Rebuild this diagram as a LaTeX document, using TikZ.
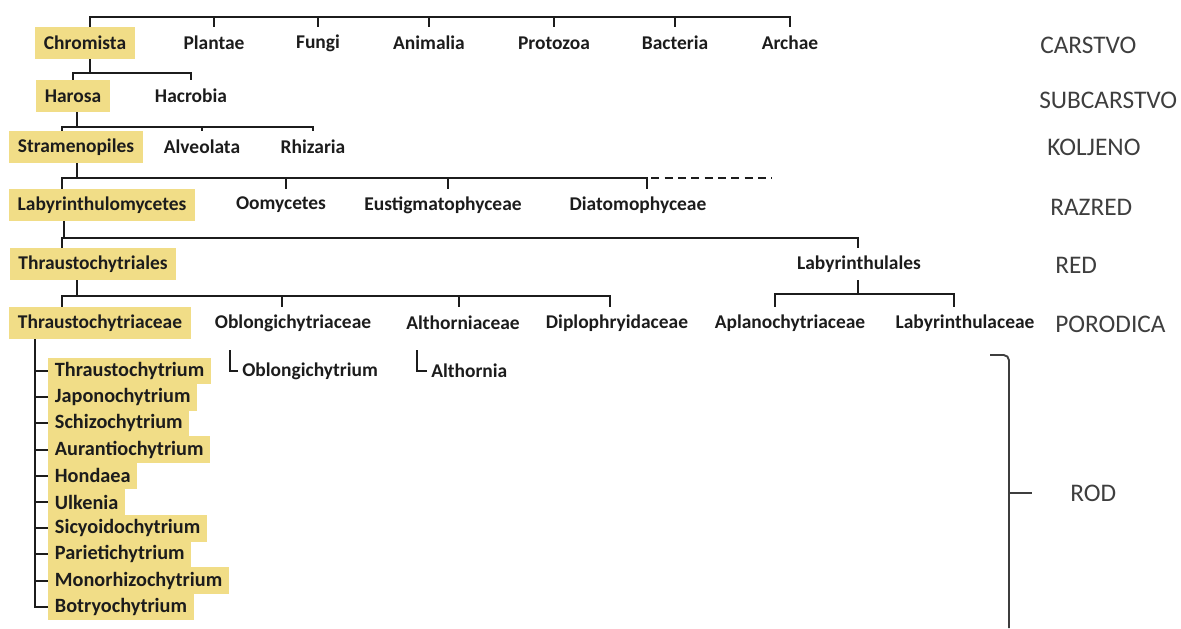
\documentclass[tikz,border=0pt]{standalone}
\usepackage{fontspec}
\setmainfont{Carlito}
\definecolor{boxyellow}{RGB}{241,221,135}
\definecolor{inkgray}{RGB}{28,28,28}
\definecolor{rankgray}{RGB}{62,62,62}
\tikzset{
  tree/.style={line width=1.5pt, draw=inkgray},
  dashline/.style={line width=1.2pt, draw=inkgray, dash pattern=on 6pt off 4pt},
  taxon/.style={font=\fontsize{14.6}{16}\selectfont\bfseries, text=inkgray, minimum height=24pt, inner xsep=6.5pt, inner ysep=0pt},
  hl/.style={taxon, fill=boxyellow},
  genus/.style={taxon, font=\fontsize{15.2}{16}\selectfont\bfseries, fill=boxyellow, anchor=west, minimum height=20pt, inner xsep=5pt},
  rank/.style={font=\fontsize{19}{22}\selectfont, text=rankgray, anchor=west, inner sep=0pt},
  brace/.style={line width=1.4pt, draw=rankgray},
}
\begin{document}
\begin{tikzpicture}[x=0.75pt, y=-0.75pt]
        \useasboundingbox (0,0) rectangle (1181,628);
        % levels of the bars
        \coordinate (y0) at (0,17);
        \coordinate (y1) at (0,73);
        \coordinate (y2) at (0,127);
        \coordinate (y3) at (0,178);
        \coordinate (y4) at (0,238);
        \coordinate (y5) at (0,296);
        \coordinate (y6) at (0,294);
        % columns of the stems
        \coordinate (xg) at (35,0);
        \coordinate (xa) at (62,0);
        \coordinate (xc) at (64,0);
        \coordinate (xb) at (77,0);
        \coordinate (xd) at (90,0);
        % carstvo
        \node[hl] (chromista) at (85,43) {Chromista};
        \node[taxon] (plantae) at (214,43) {Plantae};
        \node[taxon] (fungi) at (318,43) {Fungi};
        \node[taxon] (animalia) at (429,43) {Animalia};
        \node[taxon] (protozoa) at (554,43) {Protozoa};
        \node[taxon] (bacteria) at (675,43) {Bacteria};
        \node[taxon] (archae) at (790,43) {Archae};
        % subcarstvo
        \node[hl] (harosa) at (73,96) {Harosa};
        \node[taxon] (hacrobia) at (191,96) {Hacrobia};
        % koljeno
        \node[hl] (stram) at (76,147) {Stramenopiles};
        \node[taxon] (alveolata) at (202,147) {Alveolata};
        \node[taxon] (rhizaria) at (313,147) {Rhizaria};
        % razred
        \node[hl] (laby) at (102,205) {Labyrinthulomycetes};
        \node[taxon] (oomycetes) at (281,205) {Oomycetes};
        \node[taxon] (eustig) at (443,205) {Eustigmatophyceae};
        \node[taxon] (diatomo) at (638,205) {Diatomophyceae};
        % red
        \node[hl] (thraustoR) at (93,264) {Thraustochytriales};
        \node[taxon] (labyR) at (859,264) {Labyrinthulales};
        % porodica
        \node[hl] (thraustoF) at (100,323) {Thraustochytriaceae};
        \node[taxon] (oblongF) at (293,323) {Oblongichytriaceae};
        \node[taxon] (althF) at (463,323) {Althorniaceae};
        \node[taxon] (diplo) at (617,323) {Diplophryidaceae};
        \node[taxon] (aplano) at (790,323) {Aplanochytriaceae};
        \node[taxon] (labyF) at (965,323) {Labyrinthulaceae};
        % rod
        \foreach \g [count=\i] in {Thraustochytrium, Japonochytrium, Schizochytrium,
            Aurantiochytrium, Hondaea, Ulkenia, Sicyoidochytrium, Parietichytrium,
            Monorhizochytrium, Botryochytrium}
          \node[genus] (g\i) at (48,{371+26.2*(\i-1)}) {\g};
        \node[taxon, anchor=west, inner xsep=3pt] (oblongG) at (238,371) {Oblongichytrium};
        \node[taxon, anchor=west, inner xsep=3pt] (althG) at (427,371) {Althornia};
        \coordinate (ol) at (230,350);
        \coordinate (al) at (417,350);

        % bars
        \draw[tree] (chromista.north -| xd) -- (xd |- y0) -| (archae.north);
        \foreach \t in {plantae,fungi,animalia,protozoa,bacteria}
          \draw[tree] (\t.north |- y0) -- (\t.north);
        \draw[tree] (chromista.south -| xd) -- (xd |- y1);
        \draw[tree] (harosa.north) |- (xd |- y1) -| (hacrobia.north);
        \draw[tree] (harosa.south -| xb) -- (xb |- y2);
        \draw[tree] (stram.north -| xa) |- (xb |- y2) -| (rhizaria.north);
        \draw[tree] (alveolata.north |- y2) -- (alveolata.north);
        \draw[tree] (stram.south -| xb) -- (xb |- y3);
        \draw[tree] (laby.north -| xa) |- (xb |- y3) -| ([xshift=7pt]diatomo.north);
        \foreach \t in {oomycetes,eustig}
          \draw[tree] ([xshift=4pt]\t.north |- y3) -- ([xshift=4pt]\t.north);
        \coordinate (dashend) at (772,178);
        \draw[dashline] ([xshift=10pt]diatomo.north |- y3) -- (dashend);
        \draw[tree] (laby.south -| xc) -- (xc |- y4);
        \draw[tree] (thraustoR.north -| xa) |- (xc |- y4) -| ([xshift=-1pt]labyR.north);
        \draw[tree] (thraustoR.south -| xb) -- (xb |- y5);
        \draw[tree] (thraustoF.north -| xa) |- (xb |- y5) -| ([xshift=-5pt]diplo.north);
        \draw[tree] ([xshift=-8pt]oblongF.north |- y5) -- ([xshift=-8pt]oblongF.north);
        \draw[tree] ([xshift=-3pt]althF.north |- y5) -- ([xshift=-3pt]althF.north);
        \draw[tree] ([xshift=-1pt]labyR.south) -- ([xshift=-1pt]labyR.south |- y6);
        \draw[tree] ([xshift=-11pt]aplano.north) |- ([xshift=-1pt]labyR.south |- y6) -| ([xshift=-8pt]labyF.north);
        % genus spine
        \draw[tree] (thraustoF.south -| xg) |- (g10.west);
        \foreach \i in {1,...,9}
          \draw[tree] (g\i.west -| xg) -- (g\i.west);
        \draw[tree] (oblongG.west) -| (ol);
        \draw[tree] (althG.west) -| (al);

        % ranks
        \node[rank] (carstvo) at (1040,45) {CARSTVO};
        \node[rank] (subcarstvo) at (1039,100) {SUBCARSTVO};
        \node[rank] (koljeno) at (1047,147) {KOLJENO};
        \node[rank] (razred) at (1050,207) {RAZRED};
        \node[rank] (redlbl) at (1055,265) {RED};
        \node[rank] (porodica) at (1055,324) {PORODICA};
        \node[rank] (rod) at (1070,493) {ROD};
        % brace
        \coordinate (bt) at (990,355);
        \coordinate (bb) at (1009,628);
        \coordinate (bn) at (1032,493);
        \draw[brace, rounded corners=4pt] (bt) -| (bb);
        \draw[brace] (bb |- bn) -- (bn);
    \end{tikzpicture}
\end{document}
